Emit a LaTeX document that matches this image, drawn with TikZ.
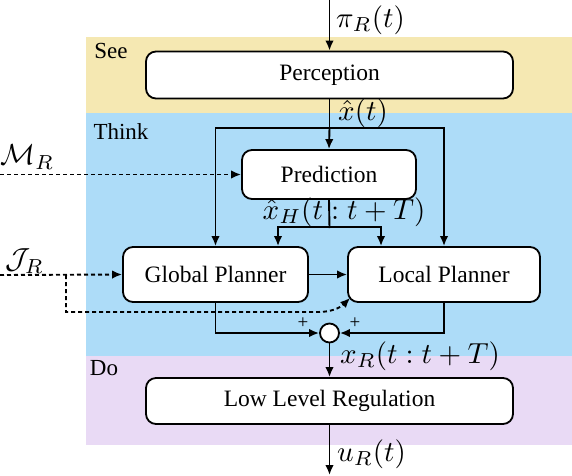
\documentclass[tikz,border=0pt]{standalone}
\usepackage{fontspec}
\setmainfont{Liberation Serif}
\usetikzlibrary{arrows.meta,calc}
\definecolor{seecol}{RGB}{245,232,178}
\definecolor{thinkcol}{RGB}{173,220,248}
\definecolor{docol}{RGB}{233,218,245}
\newcommand{\mylblmath}[1]{\scalebox{2.9}{$#1$}}
\begin{document}
\begin{tikzpicture}[x=1pt,y=-1pt,
  box/.style={draw,line width=1.8pt,rounded corners=10pt,fill=white,inner sep=0pt,
    font=\fontsize{23.5}{26}\selectfont},
  lbl/.style={inner sep=0pt,font=\fontsize{10}{12}\selectfont},
  band/.style={inner sep=0pt,font=\fontsize{23}{26}\selectfont},
  plus/.style={inner sep=0pt,font=\fontsize{19}{20}\selectfont},
  conn/.style={line width=1.9pt,-{Latex[length=10pt,width=8.5pt]}},
  plain/.style={line width=1.9pt},
  dconn/.style={line width=1.9pt,dash pattern=on 4pt off 3pt,-{Latex[length=10pt,width=8.5pt]}},
  dplain/.style={line width=1.9pt,dash pattern=on 4pt off 3pt}]
\useasboundingbox (0,0) rectangle (572,475);
% bands
\fill[seecol] (86,37) rectangle (572,113);
\fill[thinkcol] (86,113) rectangle (572,356);
\fill[docol] (86,356) rectangle (572,445);
\node[band] (see) at (111,51) {See};
\node[band] (think) at (121,132) {Think};
\node[band] (do) at (104,368) {Do};
% boxes
\node[box,minimum width=367pt,minimum height=47pt] (perc) at (329.5,75) {Perception};
\node[box,minimum width=174pt,minimum height=49pt] (pred) at (329,174.5) {Prediction};
\node[box,minimum width=185pt,minimum height=55pt] (glob) at (215.5,274.5) {Global Planner};
\node[box,minimum width=192pt,minimum height=55pt] (loc) at (444,274.5) {Local Planner};
\node[box,minimum width=367pt,minimum height=46pt] (llr) at (329.5,401) {Low Level Regulation};
\node[draw,circle,line width=1.8pt,fill=white,minimum size=19pt,inner sep=0pt] (sum) at (329.5,333) {};
% coordinates
\coordinate (pin) at (329.5,0);
\coordinate (split) at (329.5,128);
\coordinate (hsplit) at (329.5,228);
\coordinate (uout) at (329.5,475);
\coordinate (min) at (0,174.5);
\coordinate (jin) at (0,275);
\coordinate (jturn) at (66,275);
% labels
\node[lbl,anchor=west] (pil) at (336,20) {\mylblmath{\pi_R(t)}};
\node[lbl,anchor=west] (xhl) at (338,113) {\mylblmath{\hat{x}(t)}};
\node[lbl] (xhhl) at (344,212) {\mylblmath{\hat{x}_H(t:t+T)}};
\node[lbl,anchor=west] (xrl) at (340,356) {\mylblmath{x_R(t:t+T)}};
\node[lbl,anchor=west] (url) at (337,454) {\mylblmath{u_R(t)}};
\node[lbl,anchor=west] (ml) at (0,157) {\mylblmath{\mathcal{M}_R}};
\node[lbl,anchor=west] (jl) at (5,261) {\mylblmath{\mathcal{J}_R}};
\node[plus] (p1) at (303,323) {+};
\node[plus] (p2) at (355,323) {+};
% connectors
\draw[conn] (pin) -- (perc.north);
\draw[plain] (perc.south) -- (split);
\draw[conn] (split) -- (pred.north);
\draw[conn] (split) -| (glob.north);
\draw[conn] (split) -| (loc.north);
\draw[plain] (pred.south) -- (hsplit);
\draw[conn] ($(hsplit)+(0,-1)$) -| ([xshift=62.5pt]glob.north);
\draw[conn] ($(hsplit)+(0,-1)$) -| ([xshift=-63pt]loc.north);
\draw[conn] (glob.east) -- (loc.west);
\draw[dconn] (min) -- (pred.west);
\draw[dconn] (jin) -- (glob.west);
\draw[dconn] (jturn) |- (318,312) to[out=0,in=225] ([shift={(3,-5)}]loc.south west);
\draw[conn] (glob.south) |- (sum.west);
\draw[conn] (loc.south) |- (sum.east);
\draw[conn] (sum.south) -- (llr.north);
\draw[conn] (llr.south) -- (uout);
\end{tikzpicture}
\end{document}
